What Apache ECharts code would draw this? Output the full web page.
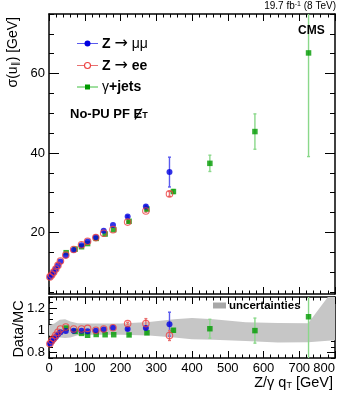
<!DOCTYPE html>
<html>
<head>
<meta charset="utf-8">
<script src="https://cdn.jsdelivr.net/npm/echarts@6.0.0/dist/echarts.min.js"></script>
<style>
  html, body { margin: 0; padding: 0; background: #fff; }
  #chart { width: 349px; height: 396px; }
</style>
</head>
<body>
<div id="chart"></div>
<script>
// Z -> mumu
var qtZmm = [2.5, 7.5, 13, 19, 25, 32, 47, 69, 91, 108, 131, 153, 179, 220, 271, 337];
var sigZmm = [8.8, 9.3, 10.0, 10.8, 11.7, 12.7, 14.2, 15.6, 16.8, 17.7, 18.8, 20.4, 21.9, 24.0, 26.5, 35.2];
var errZmm = [0, 0, 0, 0, 0, 0, 0, 0, 0, 0, 0, 0, 0, 0.2, 0.3, 3.75];
var ratZmm = [0.88, 0.897, 0.918, 0.94, 0.963, 0.983, 0.994, 0.996, 0.996, 0.992, 0.996, 1.007, 1.022, 1.012, 1.02, 1.055];
var ratErrZmm = [0, 0, 0, 0, 0, 0, 0, 0, 0, 0, 0, 0, 0, 0.01, 0.012, 0.108];

// Z -> ee
var qtZee = [2.5, 7.5, 13, 19, 25, 32, 47, 69, 91, 108, 131, 153, 179, 220, 271, 337];
var sigZee = [8.8, 9.3, 10.0, 10.8, 11.7, 12.8, 14.3, 15.7, 16.9, 17.8, 18.7, 19.8, 20.7, 22.6, 25.4, 29.7];
var errZee = [0, 0, 0, 0, 0, 0, 0, 0, 0, 0, 0, 0, 0, 0.2, 0.3, 0.6];
var ratZee = [0.878, 0.905, 0.927, 0.955, 0.982, 1.012, 1.029, 1.011, 1.011, 1.017, 1.0, 1.011, 1.023, 1.06, 1.06, 0.953];
var ratErrZee = [0, 0, 0, 0, 0, 0, 0, 0, 0, 0, 0, 0, 0, 0.012, 0.045, 0.045];

// gamma + jets
var qtG = [48, 73, 91, 108, 132, 157, 181, 224, 274, 348, 450, 576, 726];
var sigG = [14.9, 15.8, 16.4, 17.2, 18.5, 19.6, 20.7, 22.8, 25.9, 30.3, 37.4, 45.4, 65.2];
var errG = [0, 0, 0, 0, 0, 0, 0, 0.2, 0.4, 0.5, 2.05, 4.45, 26.1];
var ratG = [1.02, 0.99, 0.972, 0.955, 0.962, 0.96, 0.96, 0.958, 0.977, 1.0, 1.014, 0.997, 1.122];
var ratErrG = [0, 0, 0, 0, 0, 0, 0, 0.01, 0.012, 0.015, 0.085, 0.113, 0.6];

// uncertainty band in the ratio panel
var bandQt = [0, 15, 30, 45, 60, 80, 120, 200, 280, 350, 400, 460, 550, 640, 725, 780, 800];
var bandHi = [1.045, 1.06, 1.095, 1.10, 1.08, 1.063, 1.06, 1.06, 1.075, 1.10, 1.11, 1.10, 1.072, 1.066, 1.064, 1.30, 1.36];
var bandLo = [0.953, 0.95, 0.935, 0.93, 0.935, 0.955, 0.96, 0.96, 0.952, 0.935, 0.918, 0.915, 0.904, 0.89, 0.893, 0.905, 0.91];

// axis ticks
var yMajor = [20, 40, 60];
var yMinor = [5, 10, 15, 25, 30, 35, 45, 50, 55, 65, 70, 75];
var rMajor = [0.8, 1, 1.2];
var rMinor = [0.75, 0.85, 0.9, 0.95, 1.05, 1.1, 1.15, 1.25, 1.3];

var FONT = 'Liberation Sans';
var chart = echarts.init(document.getElementById('chart'));

function zip(xs, ys) {
    return xs.map(function (x, i) { return [x, ys[i]]; });
}
function errData(xs, ys, es) {
    var out = [];
    for (var i = 0; i < xs.length; i++) {
        if (es[i] > 0) out.push([xs[i], ys[i] - es[i], ys[i] + es[i]]);
    }
    return out;
}
function errRender(params, api) {
    var x = api.value(0);
    var a = api.coord([x, api.value(1)]);
    var b = api.coord([x, api.value(2)]);
    var c = api.visual('color');
    var st = { stroke: c, lineWidth: 1.4 };
    return {
        type: 'group',
        children: [
            { type: 'line', shape: { x1: a[0], y1: a[1], x2: b[0], y2: b[1] }, style: st },
            { type: 'line', shape: { x1: a[0] - 1.5, y1: a[1], x2: a[0] + 1.5, y2: a[1] }, style: st },
            { type: 'line', shape: { x1: b[0] - 1.5, y1: b[1], x2: b[0] + 1.5, y2: b[1] }, style: st }
        ]
    };
}
function bandRender(params, api) {
    var pts = [];
    for (var i = 0; i < bandQt.length; i++) pts.push(api.coord([bandQt[i], bandHi[i]]));
    for (var j = bandQt.length - 1; j >= 0; j--) pts.push(api.coord([bandQt[j], bandLo[j]]));
    return { type: 'polygon', shape: { points: pts }, style: { fill: '#c6c6c6' } };
}

function xAx(grid, pos, labels) {
    return {
        type: 'value', gridIndex: grid, position: pos, min: 0, max: 800, interval: 100,
        axisLine: { show: true, onZero: false, lineStyle: { color: '#000', width: 1.5 } },
        axisTick: { show: true, inside: true, length: 7, lineStyle: { color: '#000' } },
        minorTick: { show: true, splitNumber: 5, length: 3.5, lineStyle: { color: '#000' } },
        axisLabel: { show: labels, color: '#000', fontFamily: FONT, fontSize: 13, margin: 4, alignMaxLabel: 'right' },
        splitLine: { show: false }
    };
}
function yAx(grid, pos, min, max, ticks, len, labels, line) {
    return {
        type: 'value', gridIndex: grid, position: pos, min: min, max: max,
        axisLine: { show: line, onZero: false, lineStyle: { color: '#000', width: 1.5 } },
        axisTick: { show: true, inside: true, length: len, customValues: ticks, lineStyle: { color: '#000' } },
        axisLabel: { show: labels, customValues: ticks, color: '#000', fontFamily: FONT, fontSize: 13, margin: 4 },
        splitLine: { show: false }
    };
}

var option = {
    animation: false,
    backgroundColor: '#fff',
    grid: [
        { left: 49, right: 14, top: 14, height: 280 },
        { left: 49, right: 14, top: 297, height: 61 }
    ],
    xAxis: [
        xAx(0, 'bottom', false),
        xAx(0, 'top', false),
        xAx(1, 'bottom', true),
        xAx(1, 'top', false)
    ],
    yAxis: [
        yAx(0, 'left', 4.5, 75, yMajor, 10, true, true),
        yAx(0, 'left', 4.5, 75, yMinor, 5, false, false),
        yAx(0, 'right', 4.5, 75, yMajor, 10, false, true),
        yAx(0, 'right', 4.5, 75, yMinor, 5, false, false),
        yAx(1, 'left', 0.75, 1.3, rMajor, 8, true, true),
        yAx(1, 'left', 0.75, 1.3, rMinor, 4, false, false),
        yAx(1, 'right', 0.75, 1.3, rMajor, 8, false, true),
        yAx(1, 'right', 0.75, 1.3, rMinor, 4, false, false)
    ],
    series: [
        // upper panel
        { type: 'custom', xAxisIndex: 0, yAxisIndex: 0, clip: true, z: 2, renderItem: errRender,
          itemStyle: { color: '#8ad88a' }, data: errData(qtG, sigG, errG) },
        { type: 'custom', xAxisIndex: 0, yAxisIndex: 0, clip: true, z: 2, renderItem: errRender,
          itemStyle: { color: '#5a5aee' }, data: errData(qtZmm, sigZmm, errZmm) },
        { type: 'custom', xAxisIndex: 0, yAxisIndex: 0, clip: true, z: 2, renderItem: errRender,
          itemStyle: { color: '#e87070' }, data: errData(qtZee, sigZee, errZee) },
        { name: 'γ+jets', type: 'scatter', xAxisIndex: 0, yAxisIndex: 0, z: 3, symbol: 'rect', symbolSize: 5.5,
          itemStyle: { color: '#009a00' }, data: zip(qtG, sigG) },
        { name: 'Z → μμ', type: 'scatter', xAxisIndex: 0, yAxisIndex: 0, z: 4, symbol: 'circle', symbolSize: 6,
          itemStyle: { color: '#0000e0' }, data: zip(qtZmm, sigZmm) },
        { name: 'Z → ee', type: 'scatter', xAxisIndex: 0, yAxisIndex: 0, z: 5, symbol: 'circle', symbolSize: 6.5,
          itemStyle: { color: 'rgba(0,0,0,0)', borderColor: '#ee4040', borderWidth: 1.1 }, data: zip(qtZee, sigZee) },
        // ratio panel
        { type: 'custom', xAxisIndex: 2, yAxisIndex: 4, clip: true, z: 1, renderItem: bandRender, data: [[0, 1]] },
        { type: 'custom', xAxisIndex: 2, yAxisIndex: 4, clip: true, z: 2, renderItem: errRender,
          itemStyle: { color: '#8ad88a' }, data: errData(qtG, ratG, ratErrG) },
        { type: 'custom', xAxisIndex: 2, yAxisIndex: 4, clip: true, z: 2, renderItem: errRender,
          itemStyle: { color: '#5a5aee' }, data: errData(qtZmm, ratZmm, ratErrZmm) },
        { type: 'custom', xAxisIndex: 2, yAxisIndex: 4, clip: true, z: 2, renderItem: errRender,
          itemStyle: { color: '#e87070' }, data: errData(qtZee, ratZee, ratErrZee) },
        { type: 'scatter', xAxisIndex: 2, yAxisIndex: 4, z: 3, symbol: 'rect', symbolSize: 5.5,
          itemStyle: { color: '#009a00' }, data: zip(qtG, ratG) },
        { type: 'scatter', xAxisIndex: 2, yAxisIndex: 4, z: 4, symbol: 'circle', symbolSize: 6,
          itemStyle: { color: '#0000e0' }, data: zip(qtZmm, ratZmm) },
        { type: 'scatter', xAxisIndex: 2, yAxisIndex: 4, z: 5, symbol: 'circle', symbolSize: 6.5,
          itemStyle: { color: 'rgba(0,0,0,0)', borderColor: '#ee4040', borderWidth: 1.1 }, data: zip(qtZee, ratZee) }
    ],
    graphic: [
        // titles
        { type: 'text', x: 336, y: 6, z: 10, style: {
            text: '19.7 fb{sup|-1} (8 TeV)', align: 'right', verticalAlign: 'middle',
            font: '10px ' + FONT, fill: '#000',
            rich: { sup: { fontSize: 7, fontFamily: FONT, verticalAlign: 'top', lineHeight: 8, fill: '#000' } } } },
        { type: 'text', x: 298, y: 31, z: 10, style: {
            text: 'CMS', verticalAlign: 'middle', font: 'bold 12px ' + FONT, fill: '#000' } },
        { type: 'text', x: 13, y: 17, rotation: Math.PI / 2, z: 10, style: {
            text: 'σ(u{sub|∥}) [GeV]', align: 'right', verticalAlign: 'middle', font: '14px ' + FONT, fill: '#000',
            rich: { sub: { fontSize: 9, fontFamily: FONT, verticalAlign: 'bottom', fill: '#000' } } } },
        { type: 'text', x: 19, y: 329, rotation: Math.PI / 2, z: 10, style: {
            text: 'Data/MC', align: 'center', verticalAlign: 'middle', font: '14.5px ' + FONT, fill: '#000' } },
        { type: 'text', x: 333, y: 383, z: 10, style: {
            text: 'Z/γ q{sub|T} [GeV]', align: 'right', verticalAlign: 'middle', font: '14.5px ' + FONT, fill: '#000',
            rich: { sub: { fontSize: 9, fontFamily: FONT, verticalAlign: 'bottom', fill: '#000' } } } },
        // legend upper panel
        { type: 'line', shape: { x1: 77, y1: 43.5, x2: 98, y2: 43.5 }, style: { stroke: '#5a5aee', lineWidth: 1 } },
        { type: 'circle', shape: { cx: 87.5, cy: 43.5, r: 3 }, style: { fill: '#0000e0' } },
        { type: 'text', x: 102, y: 44, style: {
            text: '{b|Z} {a|→} μμ', verticalAlign: 'middle', font: '14px ' + FONT, fill: '#000',
            rich: { b: { fontWeight: 'bold', fontSize: 14, fontFamily: FONT, fill: '#000' },
                    a: { fontSize: 16, fontFamily: 'DejaVu Sans', fill: '#000' } } } },
        { type: 'line', shape: { x1: 77, y1: 65.5, x2: 98, y2: 65.5 }, style: { stroke: '#e87070', lineWidth: 1 } },
        { type: 'circle', shape: { cx: 87.5, cy: 65.5, r: 3 }, style: { fill: '#fff', stroke: '#ee4040', lineWidth: 1.1 } },
        { type: 'text', x: 102, y: 66, style: {
            text: '{b|Z} {a|→} {b|ee}', verticalAlign: 'middle', font: '14px ' + FONT, fill: '#000',
            rich: { b: { fontWeight: 'bold', fontSize: 14, fontFamily: FONT, fill: '#000' },
                    a: { fontSize: 16, fontFamily: 'DejaVu Sans', fill: '#000' } } } },
        { type: 'line', shape: { x1: 77, y1: 87, x2: 98, y2: 87 }, style: { stroke: '#40c040', lineWidth: 1 } },
        { type: 'rect', shape: { x: 85, y: 84.5, width: 5, height: 5 }, style: { fill: '#009a00' } },
        { type: 'text', x: 102, y: 87, style: {
            text: 'γ{b|+jets}', verticalAlign: 'middle', font: '14px ' + FONT, fill: '#000',
            rich: { b: { fontWeight: 'bold', fontSize: 14, fontFamily: FONT, fill: '#000' } } } },
        { type: 'text', x: 70, y: 114, style: {
            text: 'No-PU PF E{sub|T}', verticalAlign: 'middle', font: 'bold 13px ' + FONT, fill: '#000',
            rich: { sub: { fontSize: 9, fontWeight: 'bold', fontFamily: FONT, verticalAlign: 'bottom', fill: '#000' } } } },
        { type: 'line', shape: { x1: 135, y1: 119.5, x2: 142, y2: 108.5 }, style: { stroke: '#000', lineWidth: 1.3 } },
        // legend ratio panel
        { type: 'rect', shape: { x: 213, y: 302.5, width: 13, height: 6 }, style: { fill: '#a8a8a8' } },
        { type: 'text', x: 229, y: 305.5, style: {
            text: 'uncertainties', verticalAlign: 'middle', font: 'bold 11.5px ' + FONT, fill: '#000' } }
    ]
};

chart.setOption(option);
</script>
</body>
</html>
